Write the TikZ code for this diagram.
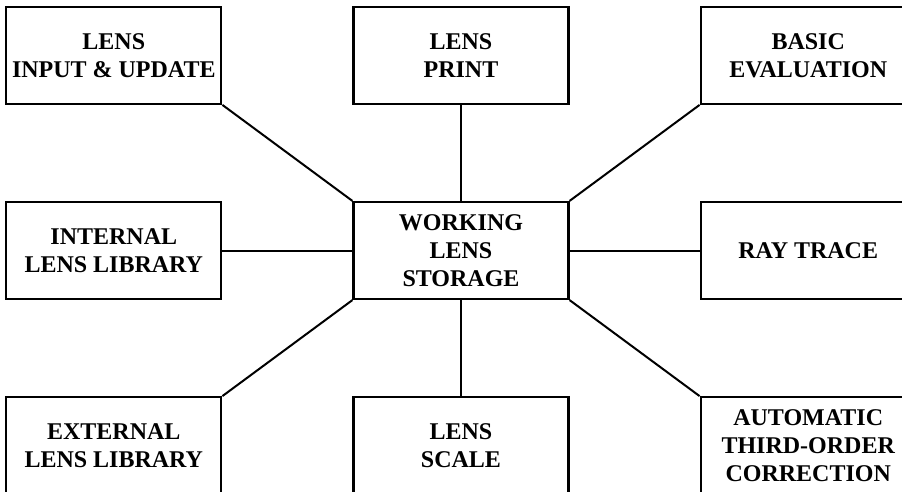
\documentclass[tikz,border=0pt]{standalone}
\usepackage{fontspec}
\setmainfont{Liberation Serif}
\usetikzlibrary{positioning}

\begin{document}
\begin{tikzpicture}[
    x=1pt, y=1pt,
    node distance=96pt and 130pt,
    block/.style={rectangle, draw, line width=2.2pt, minimum width=215pt, minimum height=97pt,
        align=center, font=\bfseries\fontsize{24}{28}\selectfont},
    link/.style={line width=2pt}
]
\useasboundingbox (-461,250.5) rectangle (441,-240.5);

% Central store
\node[block] (storage) {WORKING\\LENS\\STORAGE};

% Surrounding modules
\node[block, above left=of storage] (input) {LENS\\INPUT \& UPDATE};
\node[block, above=of storage] (print) {LENS\\PRINT};
\node[block, above right=of storage] (basic) {BASIC\\EVALUATION};
\node[block, left=of storage] (intlib) {INTERNAL\\LENS LIBRARY};
\node[block, right=of storage] (raytrace) {RAY TRACE};
\node[block, below left=of storage] (extlib) {EXTERNAL\\LENS LIBRARY};
\node[block, below=of storage] (scale) {LENS\\SCALE};
\node[block, below right=of storage] (autocorr) {AUTOMATIC\\THIRD-ORDER\\CORRECTION};

% Links
\draw[link] (storage.north west) -- (input.south east);
\draw[link] (storage) -- (print);
\draw[link] (storage.north east) -- (basic.south west);
\draw[link] (storage) -- (intlib);
\draw[link] (storage) -- (raytrace);
\draw[link] (storage.south west) -- (extlib.north east);
\draw[link] (storage) -- (scale);
\draw[link] (storage.south east) -- (autocorr.north west);

\end{tikzpicture}
\end{document}
